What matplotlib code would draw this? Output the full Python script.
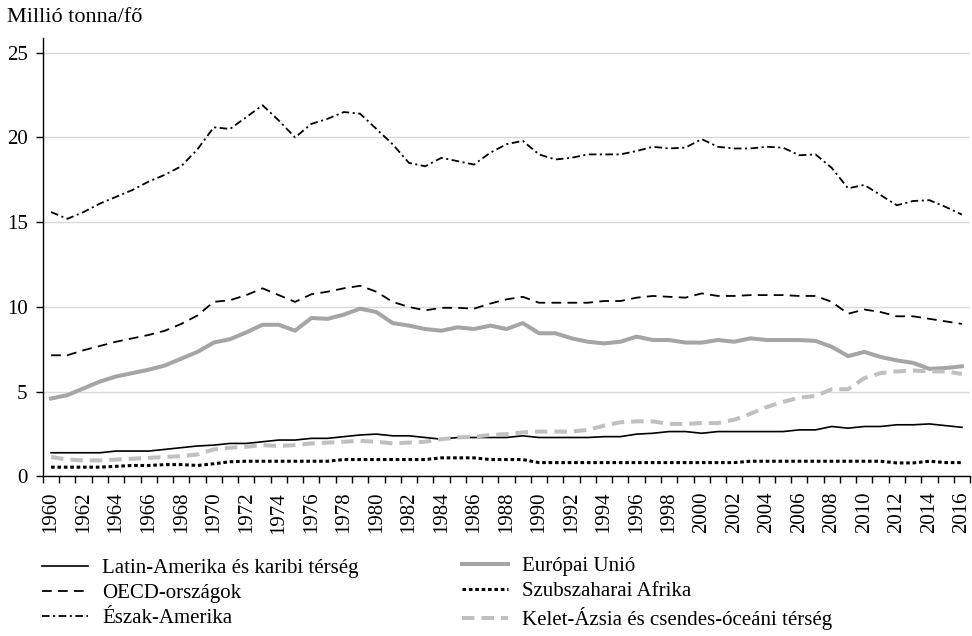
import matplotlib
matplotlib.use('Agg')
import matplotlib.pyplot as plt

plt.rcParams['font.family'] = ['Liberation Serif', 'DejaVu Serif']
plt.rcParams['lines.scale_dashes'] = False

years = list(range(1960, 2017))

latin = [1.4, 1.4, 1.4, 1.4, 1.5, 1.5, 1.5, 1.6, 1.7, 1.8,
         1.85, 1.95, 1.95, 2.05, 2.15, 2.15, 2.25, 2.25, 2.35, 2.45,
         2.5, 2.4, 2.4, 2.3, 2.2, 2.3, 2.3, 2.3, 2.3, 2.4,
         2.3, 2.3, 2.3, 2.3, 2.35, 2.35, 2.5, 2.55, 2.65, 2.65,
         2.55, 2.65, 2.65, 2.65, 2.65, 2.65, 2.75, 2.75, 2.95, 2.85,
         2.95, 2.95, 3.05, 3.05, 3.1, 3.0, 2.9]
oecd = [7.15, 7.15, 7.45, 7.7, 7.95, 8.15, 8.35, 8.6, 9.0, 9.5,
        10.3, 10.4, 10.7, 11.1, 10.7, 10.3, 10.75, 10.9, 11.1, 11.25,
        10.9, 10.3, 10.0, 9.8, 9.95, 9.95, 9.9, 10.2, 10.45, 10.6,
        10.25, 10.25, 10.25, 10.25, 10.35, 10.35, 10.55, 10.65, 10.6, 10.55,
        10.8, 10.65, 10.65, 10.7, 10.7, 10.7, 10.65, 10.65, 10.3, 9.6,
        9.85, 9.7, 9.45, 9.45, 9.3, 9.15, 9.0]
namerica = [15.6, 15.2, 15.6, 16.1, 16.5, 16.9, 17.4, 17.8, 18.3, 19.3,
            20.6, 20.5, 21.2, 21.9, 21.0, 20.0, 20.8, 21.1, 21.5, 21.4,
            20.5, 19.6, 18.5, 18.3, 18.8, 18.6, 18.4, 19.1, 19.6, 19.8,
            19.0, 18.7, 18.8, 19.0, 19.0, 19.0, 19.2, 19.45, 19.35, 19.4,
            19.9, 19.45, 19.35, 19.35, 19.45, 19.4, 18.95, 19.0, 18.2, 17.0,
            17.2, 16.6, 16.0, 16.25, 16.3, 15.9, 15.45]
eu = [4.6, 4.8, 5.2, 5.6, 5.9, 6.1, 6.3, 6.55, 6.95, 7.35,
      7.9, 8.1, 8.5, 8.95, 8.95, 8.6, 9.35, 9.3, 9.55, 9.9,
      9.7, 9.05, 8.9, 8.7, 8.6, 8.8, 8.7, 8.9, 8.7, 9.05,
      8.45, 8.45, 8.15, 7.95, 7.85, 7.95, 8.25, 8.05, 8.05, 7.9,
      7.9, 8.05, 7.95, 8.15, 8.05, 8.05, 8.05, 8.0, 7.65, 7.1,
      7.35, 7.05, 6.85, 6.7, 6.35, 6.4, 6.5]
ssafrica = [0.55, 0.55, 0.55, 0.55, 0.6, 0.65, 0.65, 0.7, 0.7, 0.65,
            0.75, 0.87, 0.9, 0.9, 0.9, 0.9, 0.9, 0.9, 1.0, 1.0,
            1.0, 1.0, 1.0, 1.0, 1.1, 1.1, 1.1, 1.0, 1.0, 1.0,
            0.82, 0.82, 0.82, 0.82, 0.82, 0.82, 0.82, 0.82, 0.82, 0.82,
            0.82, 0.82, 0.82, 0.9, 0.9, 0.9, 0.9, 0.9, 0.9, 0.9,
            0.9, 0.9, 0.8, 0.8, 0.9, 0.82, 0.82]
easia = [1.15, 1.0, 0.95, 0.95, 1.0, 1.05, 1.1, 1.15, 1.2, 1.3,
         1.6, 1.7, 1.75, 1.85, 1.8, 1.85, 1.95, 2.0, 2.05, 2.1,
         2.05, 1.95, 2.0, 2.05, 2.2, 2.3, 2.35, 2.45, 2.5, 2.6,
         2.65, 2.65, 2.65, 2.75, 3.0, 3.2, 3.25, 3.25, 3.1, 3.1,
         3.15, 3.15, 3.35, 3.7, 4.1, 4.4, 4.65, 4.75, 5.15, 5.15,
         5.8, 6.1, 6.2, 6.25, 6.2, 6.2, 6.05]

labels = ['Latin-Amerika és karibi térség', 'OECD-országok', 'Észak-Amerika',
          'Európai Unió', 'Szubszaharai Afrika', 'Kelet-Ázsia és csendes-óceáni térség']

fig = plt.figure(figsize=(9.72, 6.36), dpi=100)
ax = fig.add_axes([0.0442, 0.2508, 0.9538, 0.689])

FS = 15

l_la, = ax.plot(years, latin, color='black', lw=1.2, solid_joinstyle='round')
l_eu, = ax.plot(years, eu, color='#a5a5a5', lw=2.9, solid_joinstyle='round')
l_oe, = ax.plot(years, oecd, color='black', lw=1.3, linestyle=(0, (7, 4.5)))
l_ss, = ax.plot(years, ssafrica, color='black', lw=2.2, linestyle=(0, (2.6, 2.0)),
                dash_capstyle='butt')
l_na, = ax.plot(years, namerica, color='black', lw=1.3,
                linestyle=(0, (5.5, 2.5, 1.5, 2.5)))
l_ea, = ax.plot(years, easia, color='#c0c0c0', lw=2.9, linestyle=(0, (9, 5)))

ax.set_xlim(1959.5, 2016.5)
ax.set_ylim(0, 25.85)
ax.set_yticks([0, 5, 10, 15, 20, 25])
ax.yaxis.grid(True, color='#d9d9d9', lw=1.0)
ax.set_axisbelow(True)

ax.set_xticks(years[::2])
ax.set_xticklabels([str(y) for y in years[::2]], rotation=90)
ax.set_xticks([y - 0.5 for y in years] + [2016.5], minor=True)
ax.tick_params(axis='x', which='major', length=0, pad=11, labelsize=FS)
ax.tick_params(axis='x', which='minor', length=5, width=1.0, direction='out')
ax.tick_params(axis='y', length=5, width=1.0, pad=6, labelsize=FS)

for s in ['top', 'right']:
    ax.spines[s].set_visible(False)
for s in ['left', 'bottom']:
    ax.spines[s].set_linewidth(1.0)

fig.text(0.007, 0.988, 'Millió tonna/fő', fontsize=16, va='top', ha='left')

opts = dict(frameon=False, fontsize=FS, handlelength=2.2, handletextpad=0.7,
            labelspacing=0.27, borderpad=0, borderaxespad=0, loc='center left')
fig.legend([l_la, l_oe, l_na], labels[:3], bbox_to_anchor=(0.043, 0.067), **opts)
fig.legend([l_eu, l_ss, l_ea], labels[3:], bbox_to_anchor=(0.475, 0.067), **opts)

fig.savefig('out.png', dpi=100)
